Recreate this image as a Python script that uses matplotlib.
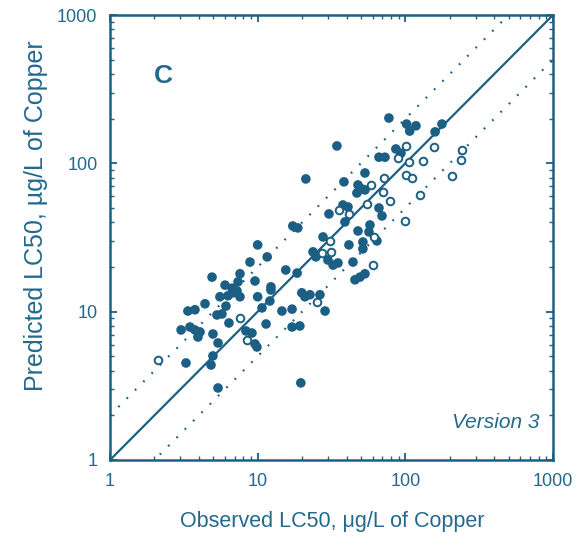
import numpy as np
import matplotlib.pyplot as plt
from matplotlib.ticker import LogLocator, NullFormatter, FixedLocator, FixedFormatter

plt.rcParams['font.family'] = ['Liberation Sans', 'DejaVu Sans']

# ── data: observed vs predicted LC50 (ug/L Cu) ───────────────────────────────
obs_filled = [77.4, 102, 118, 107, 177, 159, 34.4, 86.3, 93.4, 66.3, 72.8, 53.3,
              21.2, 38.4, 47.8, 50.8, 47.0, 53.3, 37.8, 40.9, 30.4, 66.3, 69.5,
              17.3, 18.7, 39.0, 57.6, 56.7, 47.8, 27.7, 64.2, 51.6, 51.6, 41.5,
              10.0, 23.7, 24.8, 11.6, 8.87, 29.9, 32.4, 35.0, 44.2, 15.5, 18.5,
              45.6, 49.3, 53.3, 4.91, 7.59, 7.36, 9.59, 6.01, 12.3, 12.3, 19.9,
              20.9, 22.6, 26.4, 5.55, 6.29, 6.80, 7.24, 7.59, 6.70, 10.0, 12.1,
              4.40, 6.10, 28.6, 10.7, 14.6, 17.1, 3.37, 3.76, 5.30, 5.73, 6.39,
              11.4, 17.1, 19.3, 3.03, 3.48, 3.76, 4.07, 3.94, 4.98, 8.33, 9.15,
              5.39, 9.59, 9.89, 3.27, 4.98, 4.83, 5.39, 19.6]
pred_filled = [202, 184, 179, 165, 184, 163, 131, 125, 117, 110, 110, 86.1,
               78.5, 75.0, 71.5, 67.2, 63.1, 66.2, 52.4, 50.8, 45.6, 50.0, 44.2,
               37.8, 36.7, 40.3, 38.4, 34.5, 35.0, 31.9, 30.0, 29.5, 26.5, 28.2,
               28.2, 25.3, 23.4, 23.4, 21.6, 22.3, 20.6, 21.3, 21.6, 19.1, 18.2,
               16.4, 17.1, 18.0, 17.1, 18.0, 15.9, 16.1, 15.1, 14.7, 14.0, 13.4,
               12.6, 13.0, 13.0, 12.6, 12.8, 13.4, 13.8, 12.6, 14.4, 12.6, 11.8,
               11.3, 10.9, 10.1, 10.6, 10.1, 10.4, 10.1, 10.3, 9.50, 9.65, 8.39,
               8.26, 7.88, 8.01, 7.53, 7.88, 7.53, 7.30, 6.75, 7.07, 7.41, 7.18,
               6.15, 6.06, 5.78, 4.51, 5.03, 4.37, 3.06, 3.31]

obs_open = [101, 156, 242, 89.1, 106, 132, 238, 101, 111, 207, 71.6, 58.5, 70.5,
            126, 78.7, 55.0, 35.5, 41.5, 99.4, 61.3, 30.9, 31.4, 27.3, 60.4,
            25.2, 7.59, 8.47, 2.11]
pred_open = [131, 129, 123, 109, 102, 104, 105, 83.5, 79.8, 82.2, 79.8, 71.5, 64.1,
             61.2, 55.8, 53.3, 48.5, 45.6, 40.9, 31.9, 30.0, 25.3, 24.9, 20.6,
             11.6, 9.07, 6.44, 4.72]

ticks = [1, 10, 100, 1000]
tick_labels = ["1", "10", "100", "1000"]
lims = [1, 1000]
factor = 2   # dotted lines: factor-of-two band

col = "#1b5f84"
txt = "#23698d"

# ── figure ────────────────────────────────────────────────────────────────────
fig = plt.figure(figsize=(5.78, 5.45), dpi=100)
ax = fig.add_axes([110/578, 85/545, 443/578, 445/545])
ax.set_xscale("log")
ax.set_yscale("log")
ax.set_xlim(lims)
ax.set_ylim(lims)

line = np.array(lims, dtype=float)
ax.plot(line, line, color=col, lw=1.6, zorder=2)
ax.plot(line, line * factor, color=col, lw=1.6, ls=(0, (0.8, 4.5)), zorder=2)
ax.plot(line, line / factor, color=col, lw=1.6, ls=(0, (0.8, 4.5)), zorder=2)

ax.scatter(obs_filled, pred_filled, s=48, color=col, edgecolors="none", zorder=3)
ax.scatter(obs_open, pred_open, s=30, facecolors="white", edgecolors=col,
           linewidths=1.4, zorder=4)

for s in ax.spines.values():
    s.set_color(col)
    s.set_linewidth(1.8)

ax.xaxis.set_major_locator(FixedLocator(ticks))
ax.yaxis.set_major_locator(FixedLocator(ticks))
ax.xaxis.set_major_formatter(FixedFormatter(tick_labels))
ax.yaxis.set_major_formatter(FixedFormatter(tick_labels))
minor = LogLocator(base=10, subs=np.arange(2, 10))
ax.xaxis.set_minor_locator(minor)
ax.yaxis.set_minor_locator(LogLocator(base=10, subs=np.arange(2, 10)))
ax.xaxis.set_minor_formatter(NullFormatter())
ax.yaxis.set_minor_formatter(NullFormatter())
ax.tick_params(which="both", direction="in", top=True, right=True,
               color=col, labelcolor=txt, labelsize=13)
ax.tick_params(which="major", length=5, width=1.3, pad=9)
ax.tick_params(which="minor", length=3, width=1.0)

ax.text(2.3, 390, "C", color=txt, fontsize=19, fontweight="bold",
        ha="center", va="center")
ax.text(0.97, 0.085, "Version 3", color=txt, fontsize=15, style="italic",
        ha="right", va="center", transform=ax.transAxes)

fig.text(332/578, 1 - 521/545, "Observed LC50, \u03bcg/L of Copper",
         color=txt, fontsize=15.5, ha="center", va="center")
fig.text(36/578, 1 - 216/545, "Predicted LC50, \u00b5g/L of Copper",
         color=txt, fontsize=18, rotation=90, ha="center", va="center")

fig.savefig("out.png", dpi=100)
